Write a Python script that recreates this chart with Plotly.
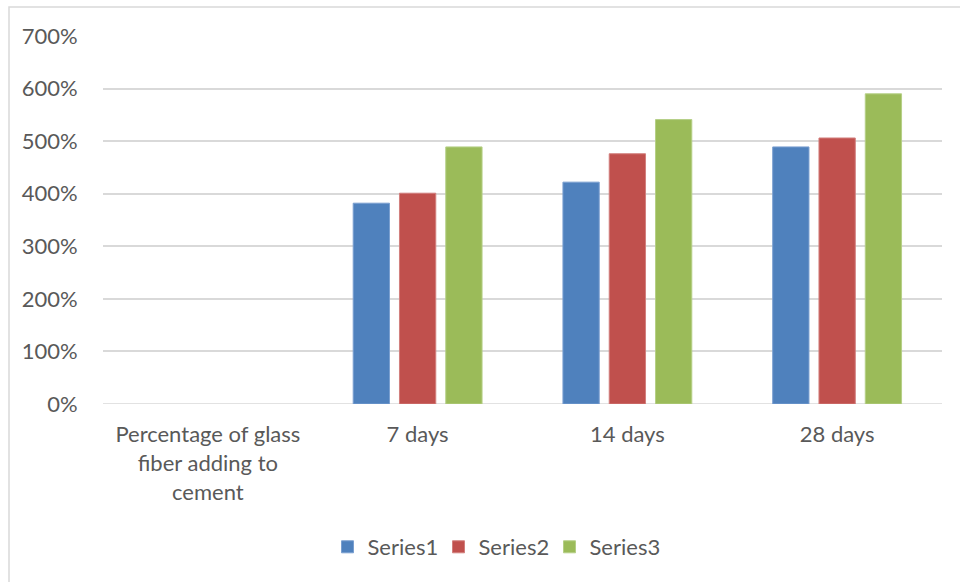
import plotly.graph_objects as go

# Category labels along the x axis
categories = ["Percentage of glass fiber adding to cement", "7 days", "14 days", "28 days"]
category_labels = ["Percentage of glass<br>fiber adding to<br>cement", "7 days", "14 days", "28 days"]

# Series values (fractions, shown as percentages)
series_names = ["Series1", "Series2", "Series3"]
series1 = [None, 3.82, 4.22, 4.89]
series2 = [None, 4.01, 4.76, 5.06]
series3 = [None, 4.89, 5.41, 5.90]

# Y axis ticks
y_ticks = [0, 1, 2, 3, 4, 5, 6, 7]

colors = ["#4F81BD", "#C0504D", "#9BBB59"]
edge_colors = ["#7A9FD0", "#D27F7D", "#B5CF86"]
text_color = "#595959"
grid_color = "#D9D9D9"
font_family = "Lato, Calibri, Carlito, sans-serif"
font_size = 22

fig = go.Figure()
for name, vals, c, ec in zip(series_names, [series1, series2, series3], colors, edge_colors):
    fig.add_trace(go.Bar(
        name=name, x=categories, y=vals,
        marker=dict(color=c, line=dict(color=ec, width=1)),
    ))

W, H = 960, 582
L, R, T, B = 103, 18, 36, 178
pw, ph = W - L - R, H - T - B


def px_x(x):
    return (x - L) / pw


def px_y(y):
    return (H - B - y) / ph


fig.update_layout(
    width=W, height=H,
    margin=dict(l=L, r=R, t=T, b=B, pad=0),
    paper_bgcolor="white", plot_bgcolor="white",
    font=dict(family=font_family, size=font_size, color=text_color),
    barmode="group", bargap=0.338, bargroupgap=0.216,
    showlegend=True,
    legend=dict(
        orientation="h", x=px_x(494), xanchor="center",
        y=px_y(547), yanchor="middle",
        font=dict(family=font_family, size=font_size, color=text_color),
        itemclick=False, traceorder="normal",
        entrywidth=66, entrywidthmode="pixels",
    ),
    xaxis=dict(
        type="category", categoryorder="array", categoryarray=categories,
        tickvals=categories, ticktext=category_labels,
        showgrid=False, zeroline=False, showline=False,
        ticks="outside", ticklen=11, tickcolor="rgba(0,0,0,0)",
        tickfont=dict(family=font_family, size=font_size, color=text_color),
    ),
    yaxis=dict(
        range=[0, 7], tickvals=y_ticks, tickformat=".0%",
        showgrid=True, gridcolor=grid_color, gridwidth=1.5,
        zeroline=False, showline=False,
        ticks="outside", ticklen=20, tickcolor="rgba(0,0,0,0)",
        tickfont=dict(family=font_family, size=font_size, color=text_color),
    ),
    shapes=[
        dict(
            type="rect", xref="paper", yref="paper",
            x0=px_x(9), x1=px_x(975), y0=px_y(600), y1=px_y(7),
            line=dict(color=grid_color, width=1.5), fillcolor="rgba(0,0,0,0)",
            layer="below",
        )
    ],
)
# 0% gridline
fig.add_hline(y=0, line=dict(color=grid_color, width=1.5), layer="below")

fig.write_html("out.html")
